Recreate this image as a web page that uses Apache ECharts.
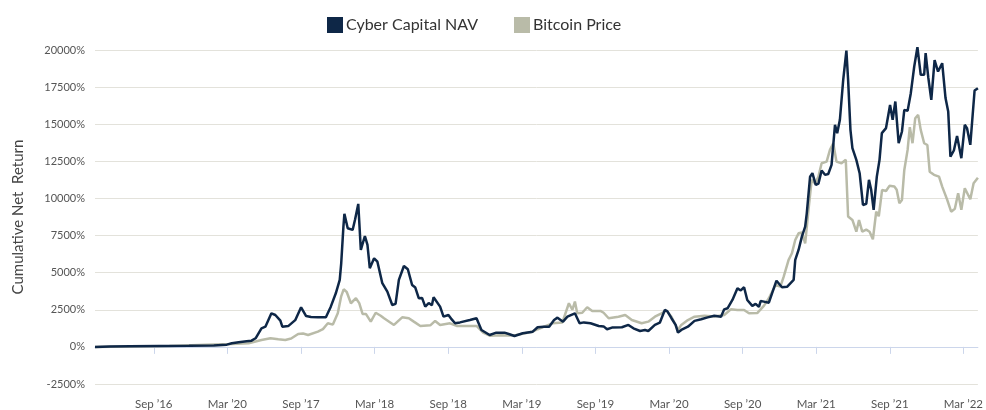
<!DOCTYPE html>
<html>
<head>
<meta charset="utf-8">
<script src="https://cdn.jsdelivr.net/npm/echarts@6/dist/echarts.min.js"></script>
<style>
html,body{margin:0;padding:0;background:#fff;}
#chart{width:986px;height:410px;}
</style>
</head>
<body>
<div id="chart"></div>
<script>
// x values: months since Jan 2016 (Sep '16 = 8)
const tickMonths = [8, 14, 20, 26, 32, 38, 44, 50, 56, 62, 68, 74];
const tickLabels = ["Sep \u201916", "Mar \u201920", "Sep \u201917", "Mar \u201918", "Sep \u201918", "Mar \u201919", "Sep \u201919", "Mar \u201920", "Sep \u201920", "Mar \u201921", "Sep \u201921", "Mar \u201922"];
const yTicks = [-2500, 0, 2500, 5000, 7500, 10000, 12500, 15000, 17500, 20000];

const navMonths = [3.21,4.42,6.04,8.46,10.88,12.90,13.95,14.36,14.92,15.57,15.97,16.30,16.78,17.10,17.59,17.91,18.32,18.48,18.96,19.53,20.01,20.42,20.82,21.38,22.03,22.43,22.84,23.16,23.28,23.46,23.54,23.81,24.21,24.40,24.67,24.88,25.21,25.42,25.61,25.96,26.23,26.63,27.04,27.44,27.71,27.98,28.39,28.71,29.06,29.32,29.60,29.87,30.13,30.41,30.67,30.81,31.34,31.62,32.02,32.29,32.56,32.96,33.77,34.31,34.44,34.71,35.38,35.92,36.59,37.00,37.40,37.54,38.08,38.89,39.29,39.80,40.23,40.63,40.91,41.36,41.72,42.33,42.71,43.06,43.60,44.27,44.67,44.95,45.35,46.16,46.69,47.10,47.64,48.04,48.31,48.85,49.25,49.66,49.87,50.20,50.54,50.73,51.00,51.54,52.08,52.62,53.15,53.69,54.24,54.50,54.77,55.17,55.58,55.85,56.12,56.38,56.79,57.06,57.33,57.47,57.73,58.14,58.40,58.76,59.21,59.62,60.16,60.29,60.56,60.83,61.10,61.23,61.50,61.69,61.96,62.18,62.44,62.72,62.98,63.25,63.53,63.71,63.93,64.20,64.46,64.60,64.79,64.95,65.27,65.54,65.81,66.08,66.30,66.48,66.68,66.94,67.16,67.35,67.69,68.02,68.23,68.45,68.72,68.99,69.18,69.45,69.71,69.99,70.25,70.52,70.80,70.92,71.14,71.38,71.65,71.93,72.27,72.54,72.76,72.94,73.22,73.48,73.62,73.83,74.11,74.29,74.56,74.91,75.18];
const navValues = [0,20,40,60,80,100,150,240,310,380,420,580,1250,1360,2260,2150,1770,1360,1400,1800,2670,2080,2020,1990,2000,2710,3610,4510,5630,8100,8960,7990,7880,8550,9630,6530,7470,6870,5300,5970,5740,4290,3720,2820,2900,4510,5450,5230,4170,4000,3280,3300,2710,2950,2800,3340,2710,2040,2150,1850,1590,1650,1810,1930,1800,1140,800,960,960,850,735,735,915,1025,1320,1350,1360,1810,1970,1700,2035,2260,1590,1650,1590,1410,1380,1190,1300,1320,1480,1250,1070,1140,1070,1480,1630,2490,2400,1930,1480,960,1140,1360,1750,1860,1990,2100,2035,2530,2600,3160,3950,3800,4020,3160,2760,2900,2700,3090,3050,2980,3610,4460,4020,4050,4510,5860,6530,7430,8100,9000,11470,11700,10910,11000,11880,11590,11650,12260,14960,14400,15300,17990,19960,17990,14620,13390,12600,11700,9560,9640,11250,10580,9230,11470,12600,14400,14740,16300,15300,16530,13720,14510,15970,15900,17090,18890,20190,18330,18330,19790,18120,16640,19320,18550,19110,16760,15850,12820,13230,14210,14150,12710,14960,14740,13610,17270,17430];

const btcMonths = [3.21,6.04,9.27,12.26,14.36,15.73,16.78,17.51,18.15,18.72,19.20,19.77,20.17,20.58,21.38,21.79,22.19,22.60,23.00,23.27,23.48,23.73,24.07,24.48,24.75,25.02,25.29,25.69,26.09,26.50,26.77,27.58,28.25,28.79,29.20,29.73,30.54,30.94,31.34,32.15,32.69,34.31,34.85,35.38,36.33,37.00,37.54,38.89,39.29,40.50,41.31,41.84,42.12,42.33,42.52,42.93,43.33,43.74,44.41,44.67,45.08,45.88,46.43,46.97,47.77,48.31,48.85,49.39,49.79,50.20,50.73,51.00,51.54,52.08,52.89,53.69,54.50,55.04,55.58,56.12,56.52,57.19,57.73,58.14,58.68,59.08,59.35,59.75,60.02,60.29,60.56,60.83,61.10,61.37,61.63,61.91,62.18,62.44,62.85,63.12,63.39,63.65,64.06,64.41,64.60,64.95,65.27,65.49,65.75,66.08,66.35,66.62,66.89,67.10,67.37,67.69,67.97,68.37,68.56,68.78,68.99,69.18,69.45,69.63,69.85,70.07,70.31,70.52,70.80,71.06,71.25,71.60,72.01,72.27,72.68,73.00,73.30,73.57,73.83,74.11,74.56,74.83,75.18];
const btcValues = [0,20,60,150,200,240,465,580,510,470,560,870,900,800,1025,1200,1590,1500,2260,3380,3880,3700,2940,3280,2950,2220,2220,1700,2300,2100,1930,1480,1990,1930,1700,1410,1450,1750,1480,1590,1410,1410,960,755,780,760,800,1025,1190,1590,1650,2940,2500,3050,2260,2300,2670,2420,2420,2300,1930,2035,2150,1810,1590,1700,2035,2260,2450,2035,1140,1480,1810,2035,2100,2050,2150,2530,2490,2490,2260,2280,2760,3280,4170,4060,4730,5860,6310,7200,7650,7700,6980,9230,11250,11000,11470,12370,12480,13270,13720,12480,12370,12600,8780,8550,7760,8550,7760,7900,7760,7250,9110,8800,10580,10500,10850,10800,10580,9680,9900,11920,13270,14800,13720,15400,15630,14620,13720,13600,11800,11590,11470,10800,9900,9110,9300,10350,9230,10690,9950,11030,11400];

const zip = (xs, ys) => xs.map((x, i) => [x, ys[i]]);

const chart = echarts.init(document.getElementById('chart'));
const font = 'Lato, "Open Sans", sans-serif';
chart.setOption({
  animation: false,
  backgroundColor: '#ffffff',
  textStyle: { fontFamily: font },
  legend: {
    left: 322, top: 12,
    itemWidth: 16, itemHeight: 16, itemGap: 36,
    icon: 'rect',
    data: ['Cyber Capital NAV', 'Bitcoin Price'],
    textStyle: { fontSize: 16, color: '#333333', fontFamily: font, padding: [0, 0, 0, -2] }
  },
  grid: { left: 95, right: 0, top: 50, bottom: 26 },
  xAxis: {
    type: 'value',
    min: navMonths[0],
    max: navMonths[navMonths.length - 1],
    splitLine: { show: false },
    axisLine: { show: true, lineStyle: { color: '#ccd6eb', width: 1 } },
    axisTick: { show: true, customValues: tickMonths, length: 7, lineStyle: { color: '#ccd6eb' } },
    axisLabel: {
      customValues: tickMonths,
      margin: 14,
      fontSize: 11.5,
      color: '#555555',
      fontFamily: font,
      formatter: v => tickLabels[tickMonths.indexOf(Math.round(v))] || ''
    }
  },
  yAxis: {
    type: 'value',
    min: yTicks[0], max: yTicks[yTicks.length - 1], interval: 2500,
    name: 'Cumulative Net  Return',
    nameLocation: 'middle',
    nameGap: 69,
    nameTextStyle: { fontSize: 15, color: '#444444', fontFamily: font },
    axisLine: { show: false },
    axisTick: { show: false },
    axisLabel: { margin: 10, fontSize: 11, color: '#555555', fontFamily: font, formatter: v => String(v) + '%' },
    splitLine: { lineStyle: { color: '#e3e2db', width: 1 } }
  },
  series: [
    {
      name: 'Bitcoin Price', type: 'line', showSymbol: false, clip: false,
      data: zip(btcMonths, btcValues),
      lineStyle: { color: '#b9bba8', width: 2.5 },
      itemStyle: { color: '#b9bba8' }
    },
    {
      name: 'Cyber Capital NAV', type: 'line', showSymbol: false, clip: false,
      data: zip(navMonths, navValues),
      lineStyle: { color: '#0e2747', width: 2.5 },
      itemStyle: { color: '#0e2747' }
    }
  ]
});
</script>
</body>
</html>
